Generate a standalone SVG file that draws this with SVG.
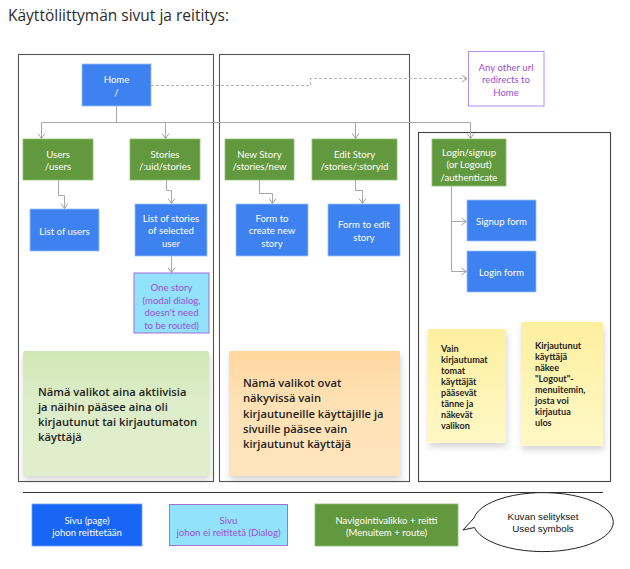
<svg xmlns="http://www.w3.org/2000/svg" width="630" height="569" viewBox="0 0 630 569">
<style>
.title{font-family:"Open Sans","Noto Sans",sans-serif;font-size:15.5px;fill:#2b2b2b}
.cont{fill:none;stroke:#555;stroke-width:1.1}
.blue{fill:#3d82f0;stroke:#9cc1fa;stroke-width:0.8}
.green{fill:#62993f;stroke:#8fbd72;stroke-width:0.8}
.dialog{fill:#93e2fb;stroke:#a46fdc;stroke-width:1}
.redir{fill:#fff;stroke:#b98ae6;stroke-width:1}
.bt{font-family:Lato,"Open Sans",sans-serif;font-size:9.6px;fill:#fff;text-anchor:middle}
.pt{font-family:Lato,"Open Sans",sans-serif;font-size:9.6px;fill:#9a4fd6;text-anchor:middle}
.note{font-family:"Open Sans","Noto Sans",sans-serif;font-weight:600;fill:#222}
.big{font-size:11.2px}
.small{font-family:Lato,"Open Sans",sans-serif;font-weight:700;font-size:9.1px;fill:#1e1e1e}
.conn{fill:none;stroke:#a8a8a8;stroke-width:1}
.dash{fill:none;stroke:#b4b4b4;stroke-width:1;stroke-dasharray:3 2}
.bub{font-family:"Liberation Sans",Arial,sans-serif;font-size:9.8px;fill:#111;text-anchor:middle}
</style>
<defs>
<marker id="arr" markerWidth="8" markerHeight="8" refX="6" refY="4" orient="auto" markerUnits="userSpaceOnUse">
<path d="M1,0.5 L6,4 L1,7.5" fill="none" stroke="#a0a0a0" stroke-width="1"/>
</marker>
<linearGradient id="gy" x1="0" y1="0" x2="0" y2="1"><stop offset="0" stop-color="#fdef9e"/><stop offset="1" stop-color="#fff8c6"/></linearGradient>
<linearGradient id="gg" x1="0" y1="0" x2="0" y2="1"><stop offset="0" stop-color="#cfe7b4"/><stop offset="0.4" stop-color="#ddedc8"/><stop offset="1" stop-color="#e1eecd"/></linearGradient>
<linearGradient id="go" x1="0" y1="0" x2="0" y2="1"><stop offset="0" stop-color="#ffd79e"/><stop offset="0.4" stop-color="#ffe1b4"/><stop offset="1" stop-color="#ffe4bd"/></linearGradient>
<filter id="sh" x="-10%" y="-10%" width="130%" height="130%"><feDropShadow dx="1" dy="4" stdDeviation="3" flood-color="#000" flood-opacity="0.16"/></filter>
</defs>

<rect width="630" height="569" fill="#fff"/>
<text class="title" x="8" y="20.5">Käyttöliittymän sivut ja reititys:</text>

<g id="containers">
<rect class="cont" x="18.5" y="54.5" width="195" height="427"/>
<rect class="cont" x="219.5" y="54.5" width="190" height="427"/>
<rect class="cont" x="418.5" y="132.5" width="192" height="349" style="stroke:#444"/>
</g>

<g id="connectors">
<path class="conn" d="M116.5,106 V122.5"/>
<path class="conn" d="M41.5,122.5 H470.5"/>
<path class="conn" d="M41.5,122.5 V138.5" marker-end="url(#arr)"/>
<path class="conn" d="M165.5,122.5 V138.5" marker-end="url(#arr)"/>
<path class="conn" d="M355.5,122.5 V138.5" marker-end="url(#arr)"/>
<path class="conn" d="M470.5,122.5 V138.5" marker-end="url(#arr)"/>
<path class="dash" d="M151,85.5 H310.5 V78.5 H467" marker-end="url(#arr)"/>
<path class="conn" d="M58.5,180 V195.5 H64.5 V208.5" marker-end="url(#arr)"/>
<path class="conn" d="M166.5,180 V190.5 H171.5 V203.5" marker-end="url(#arr)"/>
<path class="conn" d="M171.5,256 V272.5" marker-end="url(#arr)"/>
<path class="conn" d="M259.5,180 V193.5 H272.5 V203.5" marker-end="url(#arr)"/>
<path class="conn" d="M355.5,180 V190.5 H362.5 V203.5" marker-end="url(#arr)"/>
<path class="conn" d="M451.5,186 V271.5 H466.5" marker-end="url(#arr)"/>
<path class="conn" d="M451.5,221.5 H466.5" marker-end="url(#arr)"/>
</g>

<g id="home">
<rect class="blue" x="82" y="64" width="69" height="42"/>
<text class="bt" x="116.5" y="82.5">Home</text>
<text class="bt" x="116.5" y="96">/</text>
</g>
<g id="redirect">
<rect class="redir" x="468.5" y="51.5" width="75.5" height="54.5"/>
<text class="pt" x="506" y="70.5">Any other url</text>
<text class="pt" x="506" y="83">redirects to</text>
<text class="pt" x="506" y="95.5">Home</text>
</g>
<g id="users">
<rect class="green" x="23" y="139" width="70" height="41"/>
<text class="bt" x="58" y="157.5">Users</text>
<text class="bt" x="58" y="169.5">/users</text>
</g>
<g id="stories">
<rect class="green" x="130" y="139" width="70" height="41"/>
<text class="bt" x="165" y="157.5">Stories</text>
<text class="bt" x="165" y="169.5">/:uid/stories</text>
</g>
<g id="new-story">
<rect class="green" x="225" y="139" width="69" height="41"/>
<text class="bt" x="259.5" y="157.5">New Story</text>
<text class="bt" x="259.5" y="169.5">/stories/new</text>
</g>
<g id="edit-story">
<rect class="green" x="312" y="139" width="85" height="41"/>
<text class="bt" x="354.5" y="157.5">Edit Story</text>
<text class="bt" x="354.5" y="169.5">/stories/:storyid</text>
</g>
<g id="login">
<rect class="green" x="432" y="139" width="74" height="47"/>
<text class="bt" x="469" y="155.5">Login/signup</text>
<text class="bt" x="469" y="168">(or Logout)</text>
<text class="bt" x="469" y="180.5">/authenticate</text>
</g>
<g id="list-users">
<rect class="blue" x="30" y="209" width="69" height="42"/>
<text class="bt" x="64.5" y="234.5">List of users</text>
</g>
<g id="list-stories">
<rect class="blue" x="135" y="204" width="72" height="52"/>
<text class="bt" x="171" y="221.5">List of stories</text>
<text class="bt" x="171" y="234">of selected</text>
<text class="bt" x="171" y="246.5">user</text>
</g>
<g id="one-story">
<rect class="dialog" x="134" y="273" width="75" height="60"/>
<text class="pt" x="171.5" y="291">One story</text>
<text class="pt" x="171.5" y="303.5">(modal dialog,</text>
<text class="pt" x="171.5" y="316">doesn't need</text>
<text class="pt" x="171.5" y="328.5">to be routed)</text>
</g>
<g id="form-new">
<rect class="blue" x="236" y="204" width="72" height="52"/>
<text class="bt" x="272" y="221.5">Form to</text>
<text class="bt" x="272" y="234">create new</text>
<text class="bt" x="272" y="246.5">story</text>
</g>
<g id="form-edit">
<rect class="blue" x="328" y="204" width="72" height="52"/>
<text class="bt" x="364" y="227.5">Form to edit</text>
<text class="bt" x="364" y="240.5">story</text>
</g>
<g id="signup-form">
<rect class="blue" x="467" y="200" width="69" height="41"/>
<text class="bt" x="501.5" y="224.5">Signup form</text>
</g>
<g id="login-form">
<rect class="blue" x="467" y="251" width="69" height="41"/>
<text class="bt" x="501.5" y="275.5">Login form</text>
</g>

<g id="note-green">
<rect x="23" y="351" width="186" height="125" rx="2" fill="url(#gg)" filter="url(#sh)"/>
<text class="note big" x="38" y="396">Nämä valikot aina aktiivisia</text>
<text class="note big" x="38" y="411">ja näihin pääsee aina oli</text>
<text class="note big" x="38" y="426">kirjautunut tai kirjautumaton</text>
<text class="note big" x="38" y="441">käyttäjä</text>
</g>
<g id="note-orange">
<rect x="229" y="351" width="171" height="125" rx="2" fill="url(#go)" filter="url(#sh)"/>
<text class="note big" x="243" y="387">Nämä valikot ovat</text>
<text class="note big" x="243" y="402">näkyvissä vain</text>
<text class="note big" x="243" y="417.5">kirjautuneille käyttäjille ja</text>
<text class="note big" x="243" y="433">sivuille pääsee vain</text>
<text class="note big" x="243" y="448">kirjautunut käyttäjä</text>
</g>
<g id="note-yellow-1">
<rect x="428" y="329" width="78" height="114" rx="1.5" fill="url(#gy)" filter="url(#sh)"/>
<text class="small" x="441" y="351.5">Vain</text>
<text class="small" x="441" y="362.5">kirjautumat</text>
<text class="small" x="441" y="373.5">tomat</text>
<text class="small" x="441" y="384.5">käyttäjät</text>
<text class="small" x="441" y="395.5">pääsevät</text>
<text class="small" x="441" y="406.5">tänne ja</text>
<text class="small" x="441" y="417.5">näkevät</text>
<text class="small" x="441" y="428.5">valikon</text>
</g>
<g id="note-yellow-2">
<rect x="521" y="322" width="82" height="124" rx="1.5" fill="url(#gy)" filter="url(#sh)"/>
<text class="small" x="535" y="348.5">Kirjautunut</text>
<text class="small" x="535" y="359.6">käyttäjä</text>
<text class="small" x="535" y="370.7">näkee</text>
<text class="small" x="535" y="381.8">"Logout"-</text>
<text class="small" x="535" y="392.9">menuitemin,</text>
<text class="small" x="535" y="404">josta voi</text>
<text class="small" x="535" y="415.1">kirjautua</text>
<text class="small" x="535" y="426.2">ulos</text>
</g>

<line x1="23" y1="492.5" x2="603" y2="492.5" stroke="#333" stroke-width="1"/>

<g id="legend-page">
<rect x="32" y="504" width="110" height="42" fill="#1766f5" stroke="#6fa0fa" stroke-width="0.8"/>
<text class="bt" x="87" y="523.5">Sivu (page)</text>
<text class="bt" x="87" y="535.5">johon reititetään</text>
</g>
<g id="legend-dialog">
<rect class="dialog" x="169.5" y="504.5" width="118" height="41"/>
<text class="pt" x="228.5" y="523.5">Sivu</text>
<text class="pt" x="228.5" y="535.5">johon ei reititetä (Dialog)</text>
</g>
<g id="legend-menu">
<rect class="green" x="315" y="504" width="143" height="42"/>
<text class="bt" x="386.5" y="523.5">Navigointivalikko + reitti</text>
<text class="bt" x="386.5" y="535.5">(Menuitem + route)</text>
</g>
<g id="legend-bubble">
<path d="M474,518 L463,530 L474.5,527.5 A70 29.5 0 1 0 474,518 Z" fill="#fff" stroke="#222" stroke-width="1"/>
<text class="bub" x="543" y="519.5">Kuvan selitykset</text>
<text class="bub" x="543" y="531.5">Used symbols</text>
</g>
</svg>
